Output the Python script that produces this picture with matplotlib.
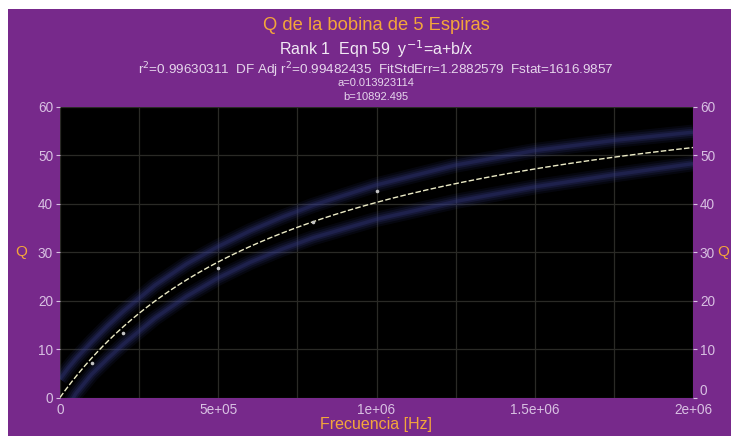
import numpy as np
import matplotlib
matplotlib.use("Agg")
import matplotlib.pyplot as plt
from matplotlib.patches import Rectangle
from matplotlib.ticker import MultipleLocator, FixedLocator

plt.rcParams['font.family'] = ['Liberation Sans', 'DejaVu Sans']

# ---- data ----
freq_hz = [1.0e5, 2.0e5, 5.0e5, 8.0e5, 1.0e6]
q_meas = [7.2, 13.3, 26.8, 36.2, 42.6]

coef_a = 0.013923114
coef_b = 10892.495

band_x = [0, 2.5e4, 5e4, 1e5, 1.5e5, 2e5, 3e5, 4e5, 5e5, 6e5, 7e5, 8e5,
          1e6, 1.25e6, 1.5e6, 1.75e6, 2e6]
band_upper = [3.8, 6.0, 8.0, 11.5, 14.8, 17.8, 23.2, 27.6, 31.2, 34.4, 37.2,
              39.7, 43.9, 48.0, 51.0, 53.1, 54.8]
band_lower = [-3.5, -2.0, 0.8, 4.8, 8.0, 11.0, 16.4, 20.9, 24.7, 27.9, 30.6,
              33.0, 36.8, 40.5, 43.5, 46.0, 48.3]

x_ticks = [0, 5e5, 1e6, 1.5e6, 2e6]
x_ticklabels = ['0', '5e+05', '1e+06', '1.5e+06', '2e+06']
y_ticks = [0, 10, 20, 30, 40, 50, 60]

title = 'Q de la bobina de 5 Espiras'
sub1 = r'Rank 1  Eqn 59  y$^{-1}$=a+b/x'
sub2 = r'r$^{2}$=0.99630311  DF Adj r$^{2}$=0.99482435  FitStdErr=1.2882579  Fstat=1616.9857'
sub3 = 'a=0.013923114'
sub4 = 'b=10892.495'

# ---- figure ----
W, H = 731, 436
fig = plt.figure(figsize=(W / 100, H / 100), dpi=100, facecolor='white')
purple = '#77298b'
fig.patches.append(Rectangle((8 / W, 0), 1 - 8 / W, (H - 9) / H,
                             transform=fig.transFigure, facecolor=purple,
                             edgecolor='none', zorder=-10))

ax = fig.add_axes([60 / W, (H - 397.5) / H, (693 - 60) / W, (397.5 - 107) / H])
ax.set_facecolor('black')
for s in ax.spines.values():
    s.set_visible(False)

ax.set_xlim(0, 2e6)
ax.set_ylim(0, 60)

# grid
ax.xaxis.set_major_locator(FixedLocator(x_ticks))
ax.xaxis.set_minor_locator(MultipleLocator(2.5e5))
ax.yaxis.set_major_locator(FixedLocator(y_ticks))
ax.grid(True, which='both', color='#2a2a26', lw=0.9, zorder=0)
ax.set_axisbelow(True)

# confidence bands (blurry, dim navy)
for lw, al in [(11, 0.10), (8, 0.14), (5, 0.2), (2.5, 0.25)]:
    ax.plot(band_x, band_upper, color='#3a4090', lw=lw, alpha=al,
            solid_capstyle='butt', zorder=2)
    ax.plot(band_x, band_lower, color='#3a4090', lw=lw, alpha=al,
            solid_capstyle='butt', zorder=2)

# fitted curve
xf = np.linspace(500, 2e6, 600)
yf = 1.0 / (coef_a + coef_b / xf)
ax.plot(np.r_[0, xf], np.r_[0, yf], color='#ecebc6', lw=1.0,
        linestyle=(0, (4, 1.6)), zorder=3)

# measured points
ax.plot(freq_hz, q_meas, 'o', color='#c4c4c4', ms=2.6, mec='none', zorder=4)

tick_col = '#d8c0e2'
ax.set_xticks(x_ticks)
ax.set_xticklabels(x_ticklabels)
ax.tick_params(axis='x', which='both', length=0, colors=tick_col,
               labelsize=9.8, pad=4)
ax.tick_params(axis='y', length=3, width=0.8, colors=tick_col,
               labelsize=9.8, pad=2)

ax2 = ax.twinx()
ax2.set_ylim(0, 60)
ax2.yaxis.set_major_locator(FixedLocator(y_ticks))
for s in ax2.spines.values():
    s.set_visible(False)
ax2.tick_params(axis='y', length=3, width=0.8, colors=tick_col,
                labelsize=9.8, pad=2)
ax2.get_yticklabels()[0].set_verticalalignment('bottom')

orange = '#f4a63a'
ax.set_xlabel('Frecuencia [Hz]', color=orange, fontsize=11.5, labelpad=0)
ax.set_ylabel('Q', color=orange, fontsize=11, rotation=0, labelpad=12,
              va='center')
ax2.set_ylabel('Q', color=orange, fontsize=11, rotation=0, labelpad=6,
               va='center')

fig.text(376 / W, 1 - 25 / H, title, color=orange, fontsize=13.2,
         ha='center', va='center')
fig.text(376 / W, 1 - 49 / H, sub1, color='#f2eaf4', fontsize=11.5,
         ha='center', va='center')
fig.text(376 / W, 1 - 70 / H, sub2, color='#e6d6ec', fontsize=9.7,
         ha='center', va='center')
fig.text(376 / W, 1 - 83.5 / H, sub3, color='#e6d6ec', fontsize=8.0,
         ha='center', va='center')
fig.text(376 / W, 1 - 97 / H, sub4, color='#e6d6ec', fontsize=8.0,
         ha='center', va='center')

fig.savefig('out.png', dpi=100, facecolor=fig.get_facecolor())
